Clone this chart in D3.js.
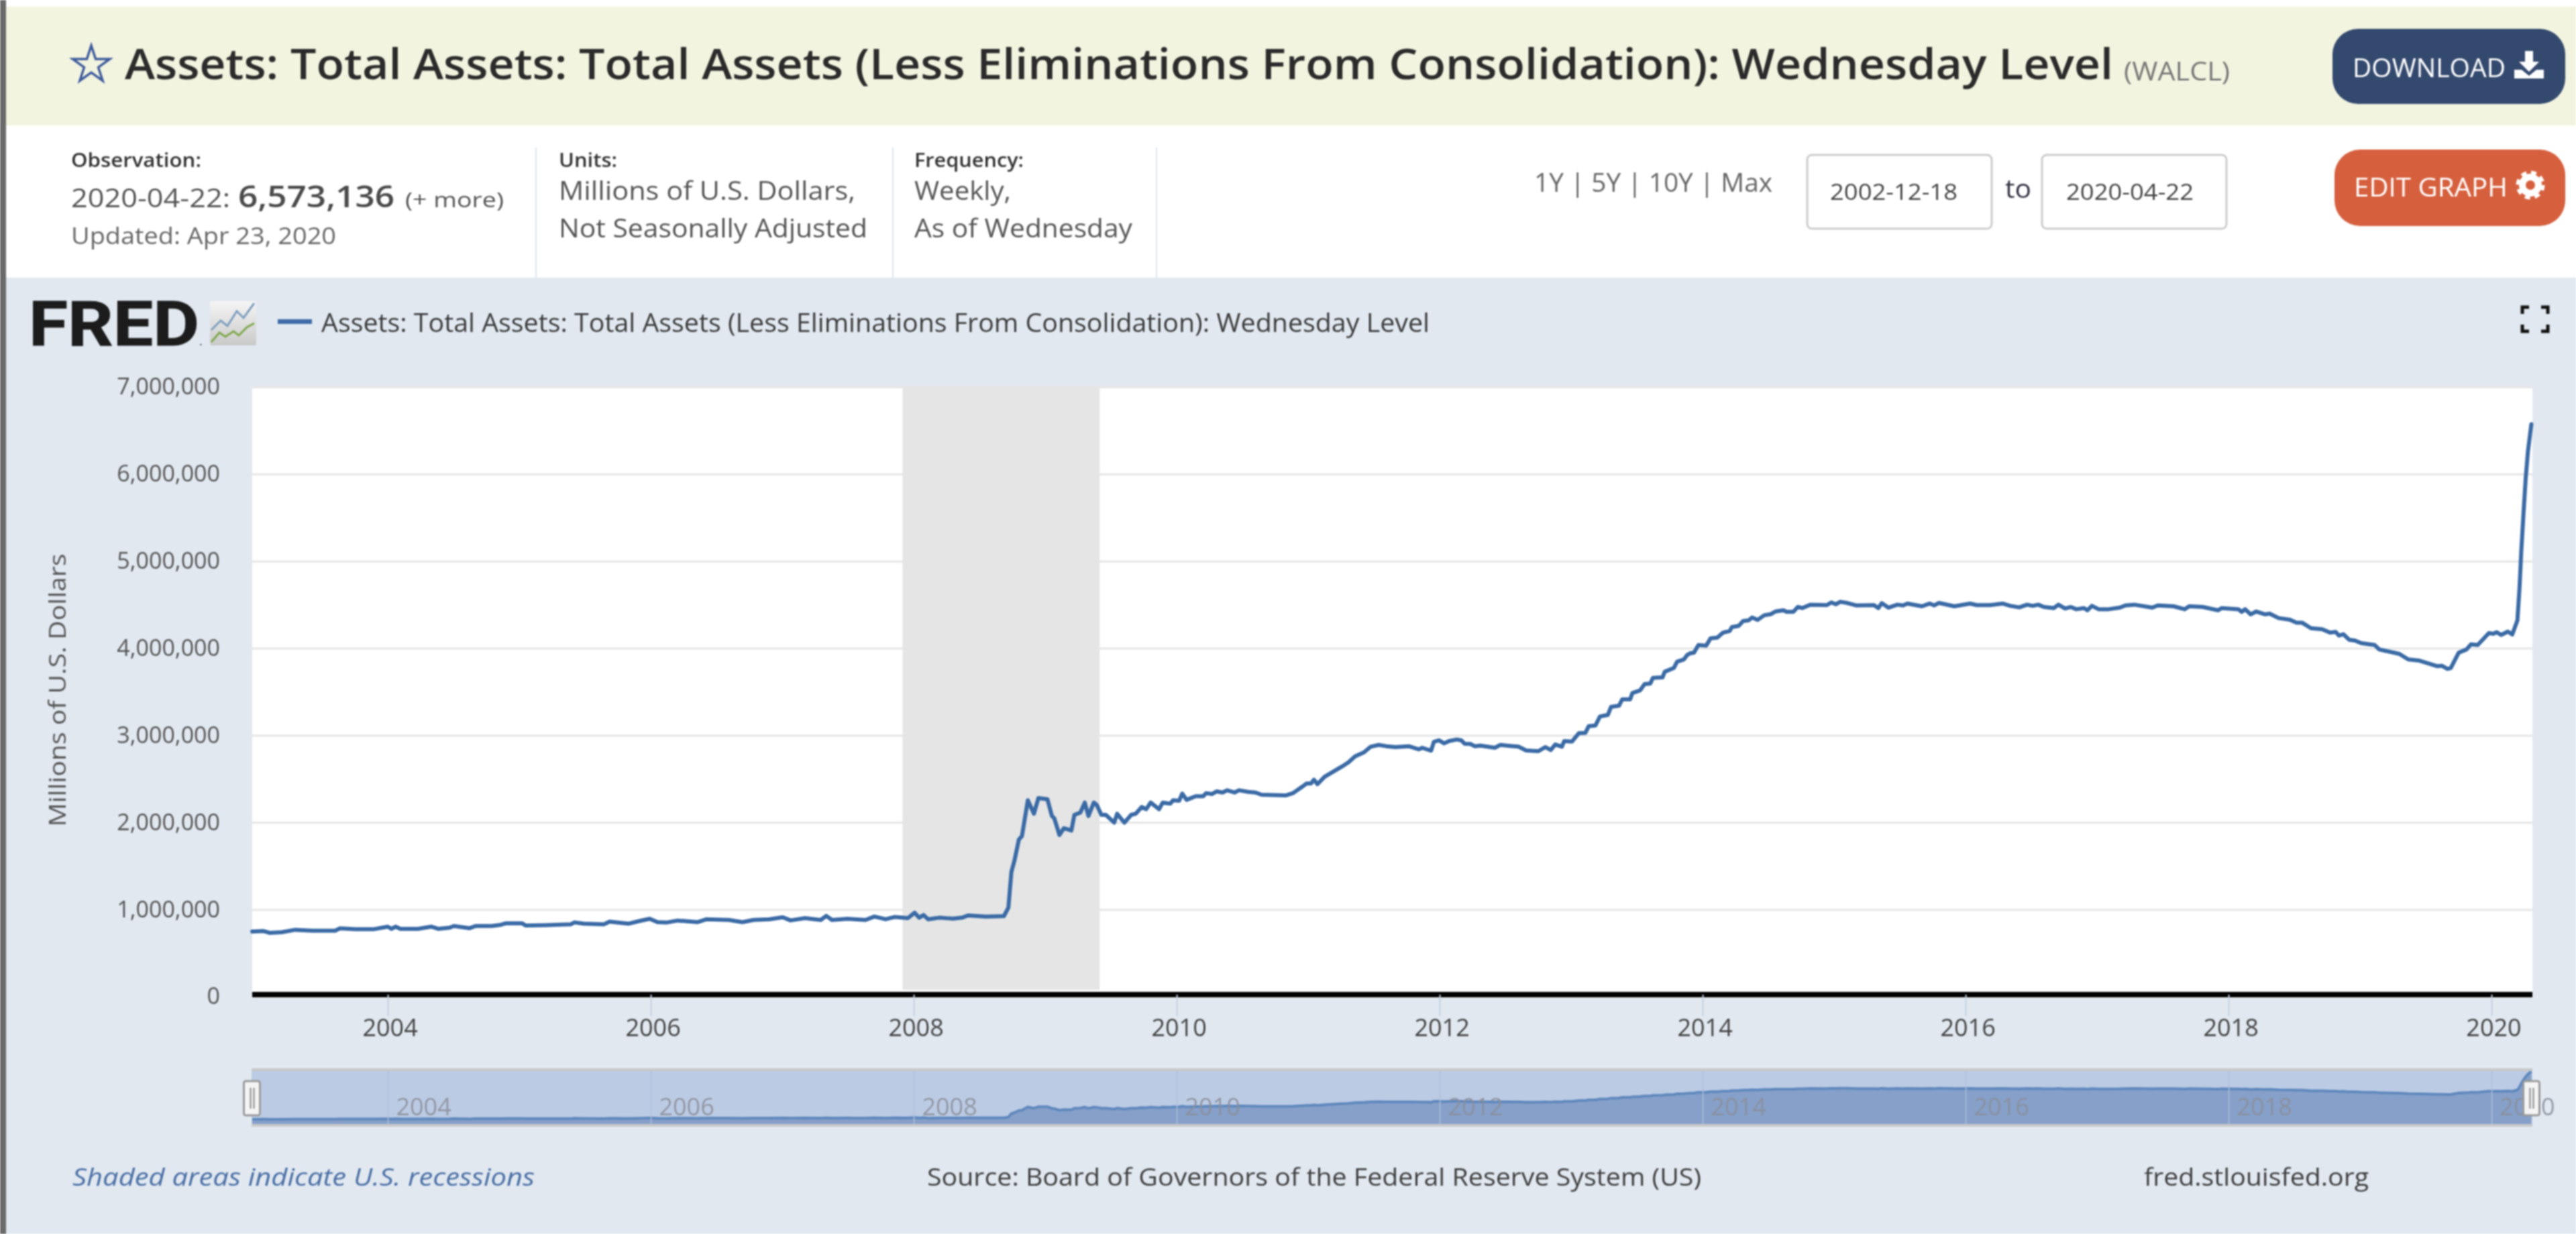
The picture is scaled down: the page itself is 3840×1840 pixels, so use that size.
<!DOCTYPE html>
<html>
<head>
<meta charset="utf-8">
<title>WALCL</title>
<script src="https://cdn.jsdelivr.net/npm/d3@7/dist/d3.min.js"></script>
<style>
html,body{margin:0;padding:0;background:#fff;overflow:hidden}
svg{display:block;filter:blur(0.8px)}
text{font-family:"Open Sans",sans-serif}
</style>
</head>
<body>
<div id="chart"></div>
<script>
// Observation time, in decimal years
const obsYear = [
2002.969,2003.056,2003.100,2003.194,2003.296,2003.430,2003.600,2003.636,2003.755,2003.890,
2004.000,2004.027,2004.060,2004.095,2004.230,2004.330,2004.383,2004.470,2004.503,2004.620,
2004.670,2004.790,2004.860,2004.900,2005.020,2005.050,2005.200,2005.390,2005.420,2005.490,
2005.643,2005.686,2005.830,2005.915,2005.992,2006.051,2006.119,2006.204,2006.357,2006.425,
2006.595,2006.697,2006.782,2006.901,2007.004,2007.063,2007.174,2007.293,2007.335,2007.378,
2007.497,2007.633,2007.701,2007.786,2007.854,2007.956,2008.007,2008.041,2008.075,2008.109,
2008.194,2008.250,2008.300,2008.367,2008.413,2008.550,2008.686,2008.720,2008.743,2008.766,
2008.800,2008.823,2008.868,2008.914,2008.948,2009.017,2009.051,2009.069,2009.108,2009.142,
2009.199,2009.222,2009.267,2009.301,2009.329,2009.370,2009.392,2009.427,2009.461,2009.525,
2009.547,2009.602,2009.654,2009.689,2009.734,2009.768,2009.802,2009.866,2009.894,2009.951,
2009.973,2010.019,2010.042,2010.076,2010.144,2010.201,2010.224,2010.269,2010.304,2010.349,
2010.383,2010.440,2010.474,2010.543,2010.600,2010.645,2010.828,2010.885,2010.953,2010.987,
2011.021,2011.044,2011.071,2011.124,2011.255,2011.306,2011.357,2011.425,2011.476,2011.536,
2011.595,2011.663,2011.765,2011.842,2011.867,2011.935,2011.956,2011.995,2012.034,2012.071,
2012.131,2012.165,2012.190,2012.233,2012.267,2012.309,2012.420,2012.462,2012.548,2012.599,
2012.658,2012.752,2012.803,2012.845,2012.879,2012.930,2012.947,2013.007,2013.058,2013.109,
2013.134,2013.185,2013.219,2013.279,2013.304,2013.364,2013.389,2013.449,2013.466,2013.525,
2013.559,2013.602,2013.622,2013.695,2013.712,2013.781,2013.806,2013.857,2013.883,2013.908,
2013.934,2013.968,2014.027,2014.061,2014.112,2014.155,2014.206,2014.223,2014.274,2014.308,
2014.350,2014.376,2014.418,2014.469,2014.520,2014.554,2014.614,2014.639,2014.690,2014.724,
2014.758,2014.818,2014.945,2014.979,2015.013,2015.047,2015.099,2015.167,2015.303,2015.337,
2015.362,2015.413,2015.481,2015.524,2015.558,2015.668,2015.728,2015.762,2015.796,2015.915,
2016.034,2016.085,2016.187,2016.281,2016.340,2016.408,2016.468,2016.510,2016.553,2016.595,
2016.672,2016.706,2016.757,2016.799,2016.842,2016.901,2016.927,2016.961,2017.012,2017.088,
2017.173,2017.216,2017.284,2017.420,2017.462,2017.581,2017.666,2017.700,2017.803,2017.921,
2017.947,2018.075,2018.100,2018.126,2018.168,2018.211,2018.279,2018.313,2018.381,2018.466,
2018.517,2018.559,2018.627,2018.712,2018.772,2018.815,2018.840,2018.874,2018.917,2018.959,
2019.010,2019.112,2019.146,2019.299,2019.367,2019.452,2019.588,2019.622,2019.665,2019.690,
2019.750,2019.810,2019.844,2019.895,2019.980,2020.014,2020.039,2020.073,2020.124,2020.158,
2020.197,2020.214,2020.226,2020.243,2020.260,2020.277,2020.303
];
// Total assets, millions of U.S. dollars, same order as obsYear
const totalAssets = [
747000,752000,732000,739000,767000,757000,757000,783000,773000,773000,
803000,778000,803000,778000,778000,803000,778000,791000,811000,785000,
811000,811000,824000,842000,842000,816000,821000,829000,852000,837000,
829000,860000,837000,868000,893000,855000,850000,873000,855000,888000,
880000,855000,880000,888000,911000,875000,901000,880000,927000,880000,
893000,880000,919000,888000,914000,901000,963000,906000,937000,888000,
906000,900000,895000,906000,932000,919000,924000,1022000,1432000,1561000,
1804000,1843000,2254000,2100000,2279000,2266000,2074000,2048000,1856000,1933000,
1907000,2087000,2112000,2228000,2074000,2228000,2202000,2087000,2087000,1997000,
2100000,1997000,2087000,2100000,2177000,2151000,2228000,2151000,2228000,2215000,
2254000,2249000,2331000,2259000,2300000,2300000,2336000,2326000,2356000,2343000,
2369000,2343000,2369000,2351000,2343000,2318000,2310000,2336000,2408000,2446000,
2446000,2490000,2439000,2523000,2640000,2690000,2759000,2805000,2870000,2890000,
2875000,2865000,2875000,2839000,2857000,2824000,2926000,2942000,2908000,2934000,
2952000,2942000,2903000,2901000,2875000,2882000,2857000,2890000,2877000,2870000,
2826000,2818000,2865000,2831000,2895000,2870000,2934000,2929000,3024000,3029000,
3106000,3113000,3216000,3234000,3327000,3340000,3414000,3414000,3486000,3517000,
3588000,3594000,3660000,3665000,3730000,3773000,3845000,3871000,3922000,3943000,
3948000,4037000,4030000,4115000,4122000,4179000,4199000,4243000,4256000,4312000,
4320000,4353000,4325000,4379000,4392000,4422000,4436000,4418000,4418000,4474000,
4461000,4500000,4495000,4526000,4505000,4533000,4520000,4492000,4495000,4461000,
4518000,4466000,4500000,4492000,4513000,4482000,4513000,4492000,4520000,4482000,
4513000,4495000,4495000,4513000,4487000,4469000,4500000,4487000,4500000,4474000,
4461000,4500000,4456000,4474000,4448000,4461000,4436000,4487000,4448000,4448000,
4466000,4492000,4500000,4466000,4492000,4482000,4448000,4482000,4474000,4436000,
4461000,4448000,4418000,4448000,4389000,4422000,4389000,4397000,4346000,4328000,
4294000,4294000,4230000,4218000,4179000,4187000,4145000,4161000,4097000,4089000,
4058000,4037000,3986000,3935000,3871000,3858000,3794000,3799000,3763000,3773000,
3948000,3986000,4045000,4037000,4174000,4166000,4184000,4153000,4191000,4158000,
4320000,4718000,5103000,5539000,5950000,6258000,6573136
];
const recessionSpan = [2007.915, 2009.415];
const yearTicks = [2004,2006,2008,2010,2012,2014,2016,2018,2020];
const valueTicks = [0,1000000,2000000,3000000,4000000,5000000,6000000,7000000];

const titleText = "Assets: Total Assets: Total Assets (Less Eliminations From Consolidation): Wednesday Level";
const seriesId = "(WALCL)";
const sourceText = "Source: Board of Governors of the Federal Reserve System (US)";

const data = obsYear.map((t,i)=>({t, v: totalAssets[i]}));
const W = 3840, H = 1840;
const svg = d3.select("#chart").append("svg").attr("width",W).attr("height",H).attr("viewBox",`0 0 ${W} ${H}`);

const L = 376, R = 3775, T = 577, B = 1486;
const x = d3.scaleLinear().domain([2002.969,2020.311]).range([L,R]);
const y = d3.scaleLinear().domain([0,7000000]).range([B,T]);
const yNav = d3.scaleLinear().domain([0,7000000]).range([1678,1592.6]);

function rect(x0,y0,w,h,fill,extra){
  const r = svg.append("rect").attr("x",x0).attr("y",y0).attr("width",w).attr("height",h).attr("fill",fill);
  if(extra) Object.entries(extra).forEach(([k,v])=>r.attr(k,v));
  return r;
}
function txt(str,x0,y0,size,fill,o={}){
  const t = svg.append("text").attr("x",x0).attr("y",y0).attr("font-size",size).attr("fill",fill).text(str);
  if(o.weight) t.attr("font-weight",o.weight);
  if(o.style) t.attr("font-style",o.style);
  if(o.anchor) t.attr("text-anchor",o.anchor);
  if(o.family) t.style("font-family",o.family);
  if(o.len) t.attr("textLength",o.len).attr("lengthAdjust","spacingAndGlyphs");
  return t;
}

// page bands
rect(0,0,W,H,"#ffffff");
rect(9,10,W-9,177,"#f2f4df");
rect(9,414,W-9,H-414,"#e1e8f0");
rect(0,0,9,H,"#6a6a6a");

// title band
svg.append("path").attr("d",d3.symbol(d3.symbolStar,950)()).attr("transform","translate(136,97)")
  .attr("fill","none").attr("stroke","#3f5c9e").attr("stroke-width",3.5);
txt(titleText,186,118,64,"#2b2b2b",{weight:600,len:2964});
txt(seriesId,3166,120,38,"#777777",{len:158});

// download button
rect(3477,43,347,112,"#34496e",{rx:38,ry:38});
txt("DOWNLOAD",3507,115,38,"#ffffff",{len:228});
svg.append("path").attr("fill","#ffffff")
  .attr("d","M3764 76h12v16h9l-15 15l-15-15h9z M3748 104h11l11 9l11-9h11v13h-44z");

// info block
txt("Observation:",106,249,28,"#333333",{weight:600,len:194});
txt("2020-04-22:",106,309,39,"#555555",{len:237});
txt("6,573,136",355,309,46,"#4a4a4a",{weight:600,len:233});
txt("(+ more)",604,309,31,"#555555",{len:147});
txt("Updated: Apr 23, 2020",106,364,34,"#666666",{len:395});
[798,1330,1723].forEach(px=>rect(px,220,2,194,"#dfe6ef"));
txt("Units:",833,249,28,"#333333",{weight:600,len:87});
txt("Millions of U.S. Dollars,",833,298,39,"#555555",{len:442});
txt("Not Seasonally Adjusted",833,354,39,"#555555",{len:460});
txt("Frequency:",1363,249,28,"#333333",{weight:600,len:163});
txt("Weekly,",1363,298,39,"#555555",{len:144});
txt("As of Wednesday",1363,354,39,"#555555",{len:325});

// range selector
txt("1Y | 5Y | 10Y | Max",2287,286,39,"#666666",{len:355});
[[2694,"2002-12-18",2728],[3044,"2020-04-22",3080]].forEach(([bx,s,tx])=>{
  rect(bx,231,275,110,"#ffffff",{rx:7,ry:7,stroke:"#cccccc","stroke-width":3});
  txt(s,tx,298,33,"#444444",{len:190});
});
txt("to",2989,295,38,"#333344",{len:39});

// edit button
rect(3480,223,344,114,"#d6603e",{rx:38,ry:38});
txt("EDIT GRAPH",3509,293,38,"#ffffff",{len:229});
svg.append("circle").attr("cx",3772).attr("cy",276).attr("r",12).attr("fill","none").attr("stroke","#ffffff").attr("stroke-width",10);
svg.append("circle").attr("cx",3772).attr("cy",276).attr("r",19).attr("fill","none").attr("stroke","#ffffff").attr("stroke-width",5).attr("stroke-dasharray","8 7");

// FRED logo
txt("FRED",43,515,92,"#1c1c1c",{weight:700,len:254,family:"Roboto, 'Open Sans', sans-serif"}).style("stroke","#1c1c1c").style("stroke-width",1);
txt(".",297,515,18,"#444444");
const lg = svg.append("defs").append("linearGradient").attr("id","logoBg").attr("x1",0).attr("y1",0).attr("x2",0).attr("y2",1);
lg.append("stop").attr("offset","0").attr("stop-color","#f5f5f5");
lg.append("stop").attr("offset","1").attr("stop-color","#c9c9c9");
rect(313,449,69,66,"url(#logoBg)",{rx:3,ry:3});
svg.append("path").attr("d","M315 492l14-14l10 8l14-22l10 10l16-22").attr("fill","none").attr("stroke","#7f9fbf").attr("stroke-width",3);
svg.append("path").attr("d","M315 510l12-14l9 6l12-8l8 6l12-12l11-6").attr("fill","none").attr("stroke","#7ea84c").attr("stroke-width",3);

// legend
rect(414,476,51,7,"#3f6ca8");
txt(titleText,479,495,39,"#3b3b3b",{len:1652});

// full-screen icon
svg.append("path").attr("fill","none").attr("stroke","#111111").attr("stroke-width",5)
  .attr("d","M3760 468v-10h10 M3788 458h10v10 M3798 484v10h-10 M3770 494h-10v-10");

// plot area
rect(L,T,R-L,1479-T,"#ffffff");

// grid and y axis
const yAxis = svg.append("g").attr("transform",`translate(${L},0)`)
  .call(d3.axisLeft(y).tickValues(valueTicks).tickSize(-(R-L)).tickPadding(48).tickFormat(d3.format(",")));
yAxis.select(".domain").remove();
yAxis.selectAll("line").attr("stroke","#e6e6e6").attr("stroke-width",3);
yAxis.selectAll("text").attr("font-size",34).attr("fill","#555555").style("font-family","'Open Sans',sans-serif");

// recession shading
rect(x(recessionSpan[0]),T,x(recessionSpan[1])-x(recessionSpan[0]),1476-T,"#e5e5e5");

// series line
const line = d3.line().x(d=>x(d.t)).y(d=>y(d.v));
svg.append("path").datum(data).attr("d",line).attr("fill","none").attr("stroke","#3a6aa5")
  .attr("stroke-width",6).attr("stroke-linejoin","round").attr("stroke-linecap","round");

// x axis
const xAxis = svg.append("g").attr("transform","translate(0,1483)")
  .call(d3.axisBottom(x).tickValues(yearTicks).tickSize(32).tickPadding(4).tickFormat(d3.format("d")));
xAxis.select(".domain").attr("stroke","#000000").attr("stroke-width",8).attr("d",`M${L},0H${R}`);
xAxis.selectAll("line").attr("stroke","#c5d2e2").attr("stroke-width",2);
xAxis.selectAll("text").attr("font-size",36).attr("fill","#444444").attr("dx",3).style("font-family","'Open Sans',sans-serif");

// navigator
rect(L-1,1595,R-L+1,83,"#bccbe4");
const navArea = d3.area().x(d=>x(d.t)).y0(1678).y1(d=>yNav(d.v));
const navLine = d3.line().x(d=>x(d.t)).y(d=>yNav(d.v));
svg.append("path").datum(data).attr("d",navArea).attr("fill","#86a0c9");
svg.append("path").datum(data).attr("d",navLine).attr("fill","none").attr("stroke","#5f88bd").attr("stroke-width",4);
const navAxis = svg.append("g").attr("transform","translate(0,1595)")
  .call(d3.axisBottom(x).tickValues(yearTicks).tickSize(83).tickFormat(d3.format("d")));
navAxis.select(".domain").remove();
navAxis.selectAll("line").attr("stroke","#aebfdc").attr("stroke-width",1.5);
navAxis.selectAll("text").attr("font-size",36).attr("fill","#8a8f9a").attr("opacity",.85).attr("y",40).attr("dy",0)
  .attr("x",53).attr("dominant-baseline","alphabetic").attr("transform","translate(0,28)")
  .style("font-family","'Open Sans',sans-serif");
rect(L-1,1593,R-L+1,4,"#c8c8c8");
rect(L-1,1676,R-L+1,4,"#c8c8c8");
[362,3760].forEach(px=>{
  rect(px+1.5,1612,24,51,"#f4f4f4",{rx:3,ry:3,stroke:"#9a9a9a","stroke-width":3});
  rect(px+10.5,1622,2,31,"#888888");
  rect(px+15.5,1622,2,31,"#888888");
});

// footer
txt("Shaded areas indicate U.S. recessions",108,1768,37,"#4a6fa5",{style:"italic",len:689});
txt(sourceText,1382,1768,37,"#3f3f3f",{len:1154});
txt("fred.stlouisfed.org",3196,1768,37,"#3f3f3f",{len:335});

// y axis title
txt("Millions of U.S. Dollars",0,0,34,"#555555",{anchor:"middle",len:407}).attr("transform","translate(98,1029) rotate(-90)");
</script>
</body>
</html>
